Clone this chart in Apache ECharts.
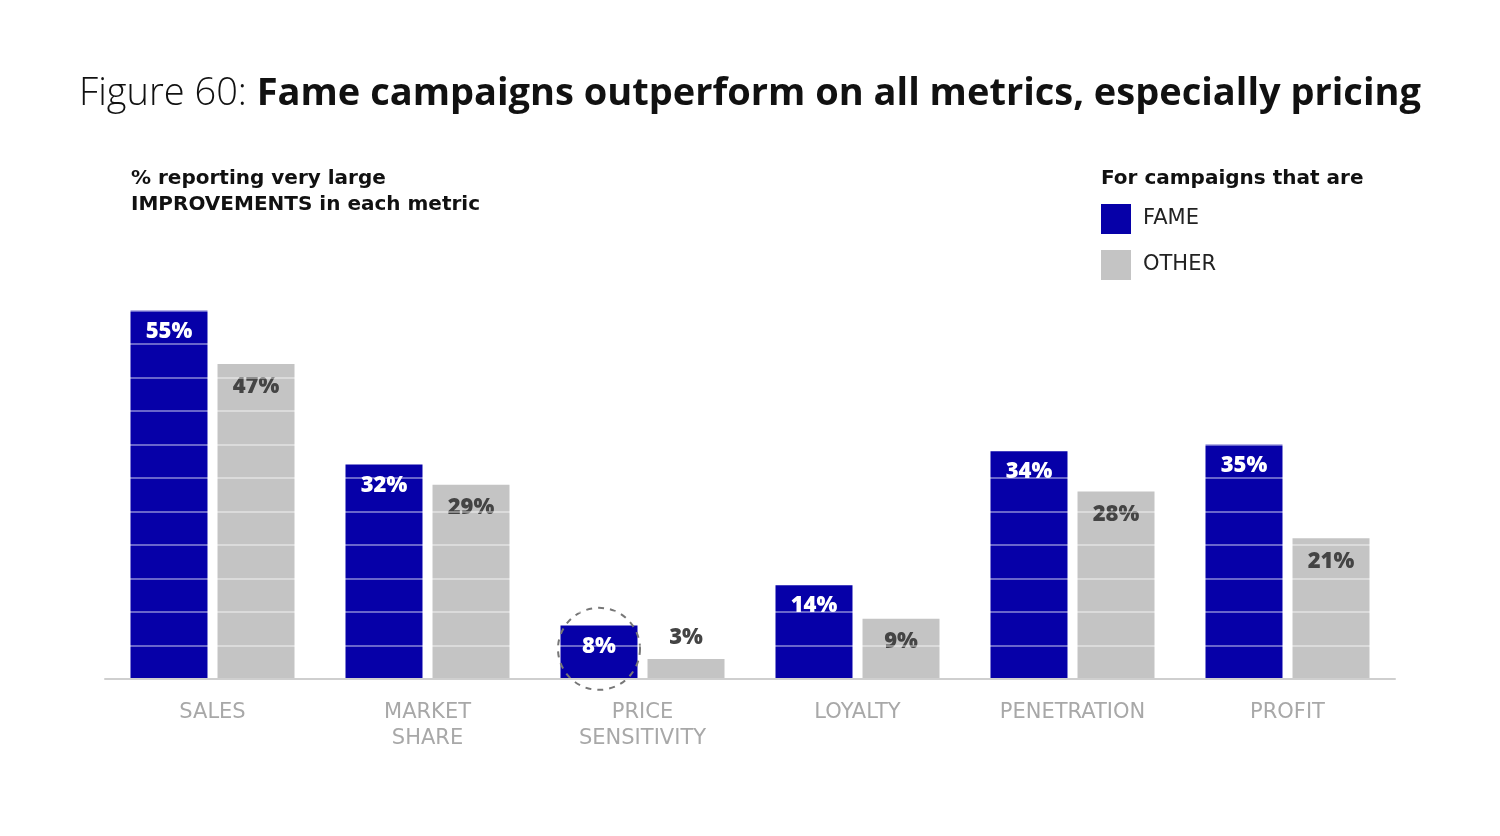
<!DOCTYPE html>
<html><head><meta charset="utf-8">
<script src="https://cdn.jsdelivr.net/npm/echarts@6/dist/echarts.min.js"></script>
<style>html,body{margin:0;padding:0;background:#fff}#c{width:1500px;height:836px}</style>
</head><body><div id="c"></div>
<script>
const categories = ['SALES', 'MARKET\nSHARE', 'PRICE\nSENSITIVITY', 'LOYALTY', 'PENETRATION', 'PROFIT'];
const fame = [55, 32, 8, 14, 34, 35];
const other = [47, 29, 3, 9, 28, 21];
const seriesNames = ['FAME', 'OTHER'];
const highlightIndex = 2;

const FONT = '"Open Sans", "Noto Sans", sans-serif';
const WIDE = '"DejaVu Sans", "Open Sans", sans-serif';
const chart = echarts.init(document.getElementById('c'));

const otherData = other.map((v, i) => v < 5 ? {
  value: v,
  label: { position: 'top', distance: 10 }
} : v);

chart.setOption({
  backgroundColor: '#fff',
  animation: false,
  title: [{
    text: '{l|Figure 60: }{b|Fame campaigns outperform on all metrics, especially pricing}',
    left: 'center', top: 70,
    textStyle: {
      rich: {
        l: { fontFamily: FONT, fontWeight: 300, fontSize: 38, color: '#111' },
        b: { fontFamily: FONT, fontWeight: 'bold', fontSize: 38, color: '#111' }
      }
    }
  }, {
    text: '% reporting very large\nIMPROVEMENTS in each metric',
    left: 126, top: 161,
    textStyle: { fontFamily: WIDE, fontWeight: 'bold', fontSize: 20, lineHeight: 26, color: '#111' }
  }, {
    text: 'For campaigns that are',
    left: 1096, top: 161,
    textStyle: { fontFamily: WIDE, fontWeight: 'bold', fontSize: 20, lineHeight: 26, color: '#111' }
  }],
  legend: {
    orient: 'vertical', left: 1096, top: 199,
    itemWidth: 30, itemHeight: 30, itemGap: 16,
    icon: 'rect',
    textStyle: { fontFamily: WIDE, fontSize: 21, color: '#222', padding: [4, 0, 0, 7] },
    data: seriesNames
  },
  grid: { left: 105, right: 105, top: 277, bottom: 836 - 679 },
  xAxis: {
    type: 'category', data: categories, z: 12,
    axisLine: { lineStyle: { color: '#cfcfcf', width: 2 } },
    axisTick: { show: false },
    axisLabel: { color: '#a8a8a8', fontFamily: WIDE, fontSize: 21, lineHeight: 26, margin: 21 }
  },
  yAxis: {
    type: 'value', min: 0, max: 60, interval: 5, z: 10,
    axisLabel: { show: false }, axisLine: { show: false }, axisTick: { show: false },
    splitLine: { show: true, showMaxLine: false, showMinLine: false,
      lineStyle: { color: 'rgba(255,255,255,0.4)', width: 2 } }
  },
  series: [{
    name: seriesNames[0], type: 'bar', data: fame, barWidth: 77, barGap: '13%',
    itemStyle: { color: '#0600a8' },
    label: { show: true, position: 'insideTop', distance: 10, formatter: '{c}%',
      fontFamily: FONT, fontWeight: 800, fontSize: 22, color: '#fff' },
    markPoint: {
      symbol: 'circle', symbolSize: 82, silent: true,
      itemStyle: { color: 'rgba(0,0,0,0)', borderColor: '#777', borderWidth: 2, borderType: [6, 6] },
      label: { show: false },
      data: [{ coord: [highlightIndex, fame[highlightIndex] / 2 + 0.5] }]
    }
  }, {
    name: seriesNames[1], type: 'bar', data: otherData, barWidth: 77,
    itemStyle: { color: '#c4c4c4' },
    label: { show: true, position: 'insideTop', distance: 12, formatter: '{c}%',
      fontFamily: FONT, fontWeight: 800, fontSize: 22, color: '#444' }
  }]
});
</script></body></html>
